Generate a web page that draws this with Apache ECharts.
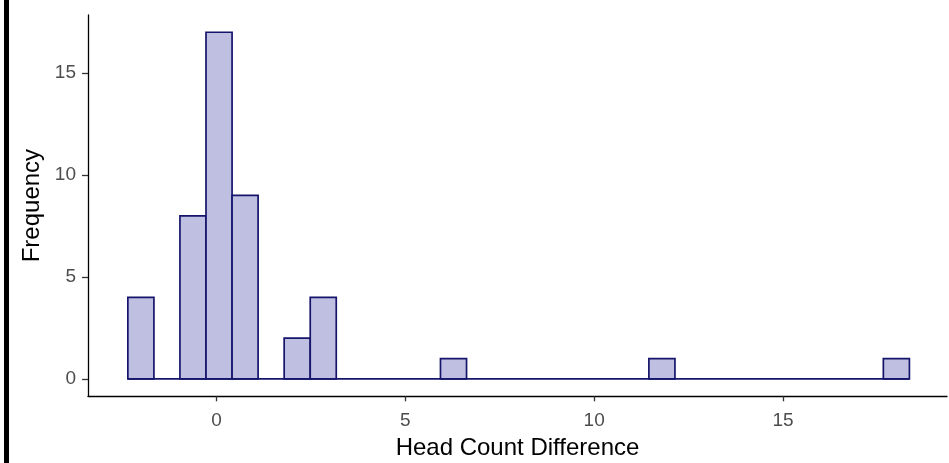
<!DOCTYPE html>
<html>
<head>
<meta charset="utf-8">
<script src="https://cdn.jsdelivr.net/npm/echarts@6/dist/echarts.min.js"></script>
<style>
  html, body { margin: 0; padding: 0; background: #ffffff; }
  #chart { width: 949px; height: 463px; }
</style>
</head>
<body>
<div id="chart"></div>
<script>
// Histogram of head count differences (30 bins spanning -2 .. 18)
const binLeft  = [-2.345, -0.966, -0.276, 0.414, 1.793, 2.483, 5.931, 11.448, 17.655];
const binRight = [-1.655, -0.276,  0.414, 1.103, 2.483, 3.172, 6.621, 12.138, 18.345];
const counts   = [4, 8, 17, 9, 2, 4, 1, 1, 1];

const xTicks = [0, 5, 10, 15];
const yTicks = [0, 5, 10, 15];

const xTitle = 'Head Count Difference';
const yTitle = 'Frequency';

const data = counts.map((c, i) => [binLeft[i], binRight[i], c]);

const FONT = 'Liberation Sans, Arial, sans-serif';

const chart = echarts.init(document.getElementById('chart'), null, { renderer: 'canvas' });

chart.setOption({
  backgroundColor: '#ffffff',
  animation: false,
  grid: { left: 88, right: 2, top: 14.9, bottom: 66.7, containLabel: false, outerBoundsMode: 'none' },
  xAxis: {
    type: 'value',
    min: -3.40,
    max: 19.34,
    name: xTitle,
    nameLocation: 'middle',
    nameGap: 40,
    nameTextStyle: { color: '#000000', fontSize: 24, fontFamily: FONT },
    splitLine: { show: false },
    axisLine: { show: true, onZero: false, lineStyle: { color: '#000000', width: 1.3 } },
    axisTick: { show: true, length: 5, customValues: xTicks, lineStyle: { color: '#333333', width: 1.3 } },
    axisLabel: {
      customValues: xTicks,
      color: '#4d4d4d', fontSize: 19, margin: 15, fontFamily: FONT
    }
  },
  yAxis: {
    type: 'value',
    min: -0.85,
    max: 17.85,
    name: yTitle,
    nameLocation: 'middle',
    nameGap: 43,
    nameTextStyle: { color: '#000000', fontSize: 24, fontFamily: FONT },
    splitLine: { show: false },
    axisLine: { show: true, onZero: false, lineStyle: { color: '#000000', width: 1.3 } },
    axisTick: { show: true, length: 6, customValues: yTicks, lineStyle: { color: '#333333', width: 1.3 } },
    axisLabel: {
      customValues: yTicks,
      color: '#4d4d4d', fontSize: 19, margin: 12, fontFamily: FONT
    }
  },
  graphic: [
    // dark frame strip on the left edge
    { type: 'rect', left: 4, top: 0, shape: { width: 5, height: 463 }, style: { fill: '#000000' }, silent: true }
  ],
  series: [
    {
      type: 'custom',
      data: data,
      encode: { x: [0, 1], y: 2 },
      z: 3,
      renderItem: function (params, api) {
        const p0 = api.coord([api.value(0), api.value(2)]);
        const p1 = api.coord([api.value(1), 0]);
        return {
          type: 'rect',
          shape: { x: p0[0], y: p0[1], width: p1[0] - p0[0], height: p1[1] - p0[1] },
          style: { fill: '#bfbfe2', stroke: '#15156b', lineWidth: 1.7 }
        };
      }
    },
    {
      // baseline drawn across the empty bins
      type: 'line',
      data: [[binLeft[0], 0], [binRight[binRight.length - 1], 0]],
      symbol: 'none',
      lineStyle: { color: '#15156b', width: 1.7 },
      z: 2
    }
  ]
});
</script>
</body>
</html>
